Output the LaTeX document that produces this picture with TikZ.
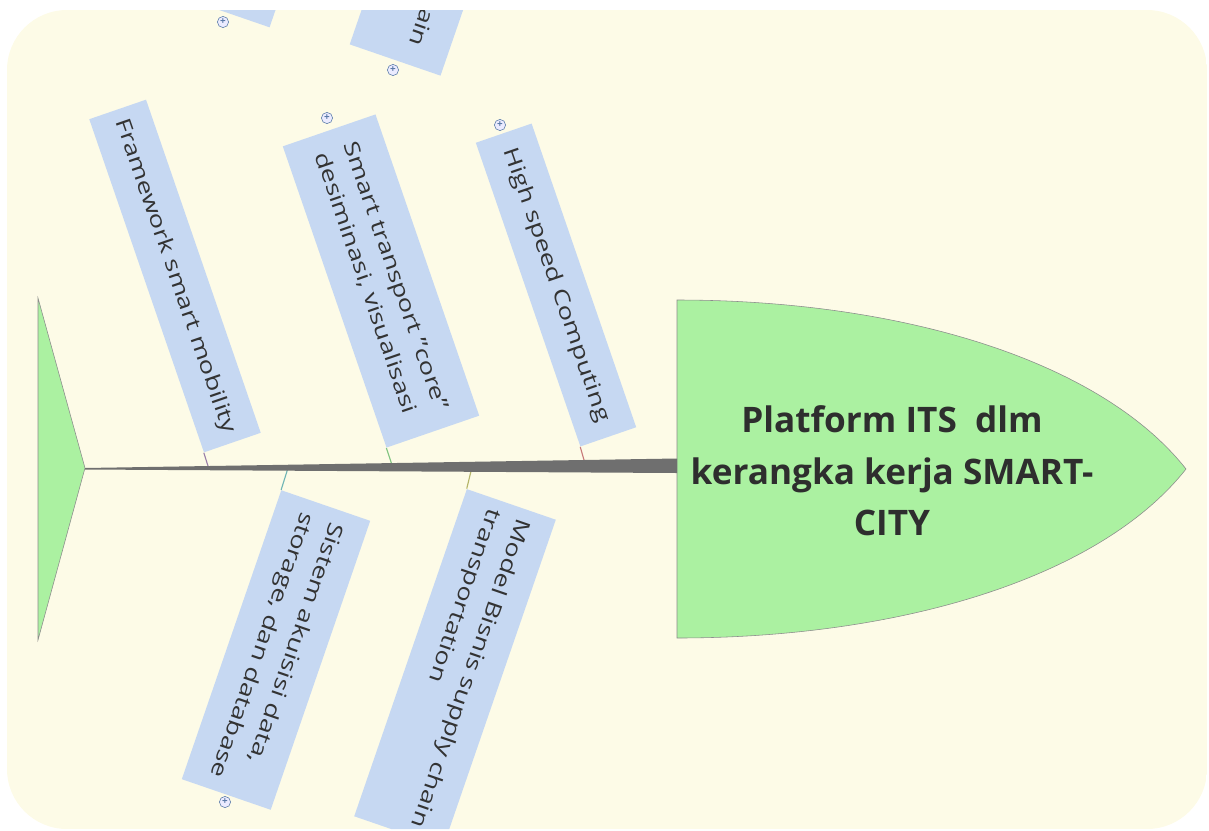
\documentclass[tikz,border=0pt]{standalone}
\usepackage{fontspec}
\setmainfont{Open Sans}
\usepackage{xcolor}
\usetikzlibrary{positioning}

\definecolor{paper}{HTML}{FDFBE7}
\definecolor{fishgreen}{HTML}{ABF1A1}
\definecolor{boneblue}{HTML}{C6D8F2}
\definecolor{spinegray}{HTML}{6F6F6F}
\definecolor{rimgray}{HTML}{8C8C8C}
\definecolor{inkgray}{HTML}{333333}
\definecolor{iconblue}{HTML}{5A7AA8}

\begin{document}
\begin{tikzpicture}[x=0.025cm, y=-0.025cm,
    bone/.style={fill=boneblue, text=inkgray, font=\fontsize{14.8}{22}\selectfont, align=left, inner xsep=0.2cm, inner ysep=0pt, transform shape, xscale=1.3},
    upbone/.style={rotate=-71, bone},
    downbone/.style={rotate=-109, bone},
    headtext/.style={text=inkgray!90!black, font=\bfseries\fontsize{25}{36.6}\selectfont, align=center},
    plusicon/.style={circle, draw=iconblue, fill=blue!8!white, minimum size=0.28cm, inner sep=0pt, text=iconblue, font=\bfseries\fontsize{7}{7}\selectfont},
    link/.style={line width=0.8pt}]
    \useasboundingbox (0,0) rectangle (1209,830);
    \clip[rounded corners=1.5cm] (7,10) rectangle (1207,829);
    \fill[paper] (7,10) rectangle (1207,829);

    \filldraw[fill=fishgreen, draw=rimgray] (38,298) -- (85,468) -- (38,640) -- cycle;
    \filldraw[fill=fishgreen, draw=rimgray] (677,300) .. controls (900,300) and (1100,360) .. (1186,469) .. controls (1100,578) and (900,638) .. (677,638) -- cycle;
    \node[headtext] (head) at (892,471) {Platform ITS\ \ dlm\\kerangka kerja SMART-\\CITY};

    \node[upbone, minimum width=6.5cm, minimum height=1.5cm] (fw) at (175,276) {Framework smart mobility};
    \node[upbone, minimum width=6.125cm, minimum height=2.45cm] (stc) at (381,281) {Smart transport "core"\\desiminasi, visualisasi};
    \node[upbone, minimum width=6.175cm, minimum height=1.475cm] (hsc) at (556,285) {High speed Computing};
    \node[downbone, minimum width=5.875cm, minimum height=2.35cm] (sis) at (276,650) {Sistem akuisisi data,\\storage, dan database};
    \node[downbone, minimum width=6.625cm, minimum height=2.35cm] (mbs) at (455,668) {Model Bisnis supply chain\\transportation};
    \node[downbone, minimum width=5.775cm, minimum height=2.35cm] (sub1) at (274,-130) {};
    \node[downbone, minimum width=5.775cm, minimum height=2.4cm, text width=5.0cm, align=right] (sub2) at (444,-82) {ain\\\mbox{}};

    \coordinate (s1) at (208,466);
    \coordinate (s2) at (392,465);
    \coordinate (s3) at (585,463.5);
    \coordinate (s4) at (288,468);
    \coordinate (s5) at (472,467);
    \draw[link, color={rgb,255:red,154;green,127;blue,168}] (fw.south east) -- (s1);
    \draw[link, color={rgb,255:red,127;green,196;blue,127}] (stc.south east) -- (s2);
    \draw[link, color={rgb,255:red,200;green,122;blue,122}] (hsc.south east) -- (s3);
    \draw[link, color={rgb,255:red,111;green,181;blue,181}] (sis.south west) -- (s4);
    \draw[link, color={rgb,255:red,181;green,181;blue,106}] (mbs.south west) -- (s5);

    \coordinate (tailtip) at (85,468);
    \fill[spinegray] (tailtip) -- (677,458.5) -- (677,473) -- (85,469.5) -- cycle;

    \node[plusicon] (i1) at (223,22) {+};
    \node[plusicon] (i2) at (393,70) {+};
    \node[plusicon] (i3) at (327,118) {+};
    \node[plusicon] (i4) at (500,125) {+};
    \node[plusicon] (i5) at (225,802) {+};
\end{tikzpicture}
\end{document}
